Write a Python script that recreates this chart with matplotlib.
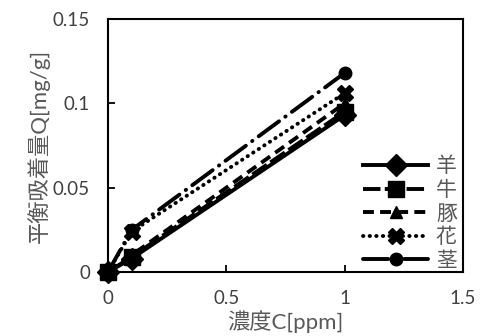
import matplotlib
matplotlib.use("Agg")
import matplotlib.pyplot as plt

plt.rcParams['font.family'] = ['Lato', 'Noto Sans CJK JP', 'DejaVu Sans']

# concentration C [ppm]
conc = [0, 0.1, 1]

# equilibrium adsorption Q [mg/g]
names = ['羊', '牛', '豚', '花', '茎']
q_hitsuji = [0, 0.008, 0.093]
q_ushi = [0, 0.009, 0.095]
q_buta = [0, 0.010, 0.100]
q_hana = [0, 0.024, 0.106]
q_kuki = [0, 0.025, 0.118]

x_ticks = [0, 0.5, 1, 1.5]
x_labels = ['0', '0.5', '1', '1.5']
y_ticks = [0, 0.05, 0.1, 0.15]
y_labels = ['0', '0.05', '0.1', '0.15']

gray = '#595959'
lw = 2.8

fig = plt.figure(figsize=(4.83, 3.36), dpi=100)
ax = fig.add_axes([108 / 483, 1 - 272 / 336, 355 / 483, 253 / 336])

series = [
    (q_hitsuji, dict(marker='D', markersize=11, linestyle='-')),
    (q_ushi, dict(marker='s', markersize=12, dashes=(4.5, 1.1))),
    (q_buta, dict(marker='^', markersize=8, dashes=(2.8, 1.6))),
    (q_hana, dict(marker='X', markersize=12, dashes=(0.1, 1.6), dash_capstyle='round')),
    (q_kuki, dict(marker='o', markersize=9, dashes=(6.5, 2, 0.1, 2), dash_capstyle='round')),
]
for (vals, style), name in zip(series, names):
    ax.plot(conc, vals, color='black', lw=lw, label=name, clip_on=False, **style)

ax.set_xlim(0, 1.5)
ax.set_ylim(0, 0.15)
ax.set_xticks(x_ticks)
ax.set_xticklabels(x_labels)
ax.set_yticks(y_ticks)
ax.set_yticklabels(y_labels)
ax.tick_params(direction='in', length=5, width=1.3, labelsize=13.5, labelcolor='#404040', pad=13)
for s in ax.spines.values():
    s.set_linewidth(1.5)

ax.set_xlabel('濃度C[ppm]', fontsize=16, color=gray, labelpad=2)
ax.set_ylabel('平衡吸着量Q[mg/g]', fontsize=16, color=gray, labelpad=2)

leg = ax.legend(loc='upper left', bbox_to_anchor=(353 / 483, 1 - 146 / 336),
                bbox_transform=fig.transFigure, frameon=False, fontsize=15,
                handlelength=3.1, handletextpad=0.38, labelspacing=0.17, borderpad=0)
for t in leg.get_texts():
    t.set_color(gray)

fig.savefig('out.png', dpi=100)
